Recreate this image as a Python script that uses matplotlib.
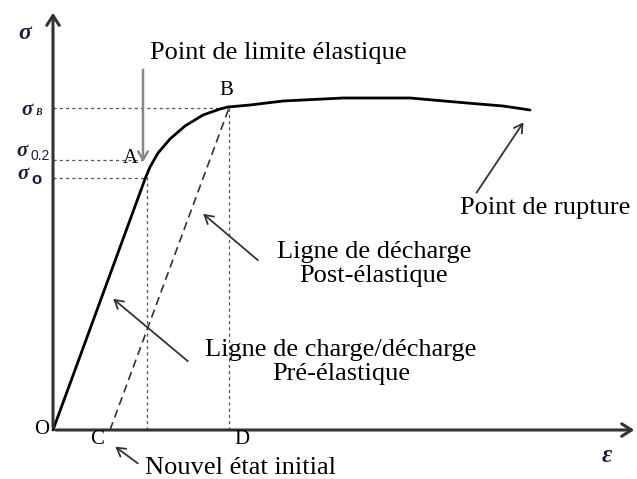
import matplotlib.pyplot as plt

# stress-strain curve, in drawing units (origin O at 0,0)
elastic_eps = [0, 88]
elastic_sig = [0, 240]
plastic_eps = [88, 92, 97, 105, 117, 132, 150, 167, 175, 197, 230, 290, 357, 414, 450, 477]
plastic_sig = [240, 251, 263, 277, 291, 304, 315, 321, 323, 325, 329, 332, 332, 327, 324, 320]

# characteristic points
eps_C = 57
eps_A = 94
eps_B = 176
sig_0 = 252
sig_02 = 270
sig_B = 322

plt.rcParams['font.family'] = ['Liberation Serif', 'DejaVu Serif']

fig = plt.figure(figsize=(6.37, 4.79), dpi=100)
ax = fig.add_axes([0, 0, 1, 1])
ax.set_xlim(-53, 584)
ax.set_ylim(-49, 430)
ax.axis('off')

axis_col = '#333333'
# axes with open arrow heads
ax.annotate('', xy=(0, 420), xytext=(0, 0),
            arrowprops=dict(arrowstyle='->,head_length=0.7,head_width=0.45', lw=2.2, color=axis_col))
ax.annotate('', xy=(584, 0), xytext=(0, 0),
            arrowprops=dict(arrowstyle='->,head_length=0.7,head_width=0.45', lw=2.2, color=axis_col))

# reference lines
dot = dict(color='#555555', lw=0.9, linestyle=(0, (2.5, 2.5)))
ax.plot([0, eps_B], [sig_B, sig_B], **dot)
ax.plot([0, 90], [sig_02, sig_02], **dot)
ax.plot([0, 92], [sig_0, sig_0], **dot)
ax.plot([eps_A, eps_A], [0, 262], **dot)
ax.plot([eps_B, eps_B], [0, sig_B], **dot)

# unloading line C-B
ax.plot([eps_C, eps_B], [0, sig_B], color='#333333', lw=1.2, linestyle=(0, (5, 3)))

# curve
ax.plot(elastic_eps, elastic_sig, color='black', lw=2.0, solid_capstyle='round')
ax.plot(plastic_eps, plastic_sig, color='black', lw=2.0, solid_capstyle='round')

fs = 19
arr = dict(arrowstyle='->,head_length=0.6,head_width=0.35', lw=1.3, color='#333333')

ax.annotate('', xy=(90, 265), xytext=(90, 363),
            arrowprops=dict(arrowstyle='->,head_length=0.6,head_width=0.35', lw=1.8, color='#888888'))
ax.text(225, 377, 'Point de limite élastique', fontsize=fs, ha='center', va='center')

ax.annotate('', xy=(472, 310), xytext=(422, 235), arrowprops=arr)
ax.text(492, 222, 'Point de rupture', fontsize=fs, ha='center', va='center')

ax.annotate('', xy=(148, 218), xytext=(207, 168), arrowprops=arr)
ax.text(321, 166, 'Ligne de décharge\nPost-élastique', fontsize=fs, ha='center', va='center',
        linespacing=1.1)

ax.annotate('', xy=(58, 133), xytext=(137, 67), arrowprops=arr)
ax.text(288, 68, 'Ligne de charge/décharge\nPré-élastique', fontsize=fs, ha='center', va='center',
        linespacing=1.1)

ax.annotate('', xy=(60, -15), xytext=(87, -35), arrowprops=arr)
ax.text(92, -38, 'Nouvel état initial', fontsize=fs, ha='left', va='center')

# point letters
lf = 15
ax.text(-11, 0, 'O', fontsize=lf, ha='center', va='center')
ax.text(44, -10, 'C', fontsize=lf, ha='center', va='center')
ax.text(189, -10, 'D', fontsize=lf, ha='center', va='center')
ax.text(77, 272, 'A', fontsize=lf, ha='center', va='center')
ax.text(173, 340, 'B', fontsize=lf, ha='center', va='center')

# axis symbols
sym = '#1c1c3a'
ax.text(-28, 397, 'σ', fontsize=17, style='italic', weight='bold', ha='center', va='center', color=sym)
ax.text(-26, 320, 'σ', fontsize=15, style='italic', weight='bold', ha='center', va='center', color=sym)
ax.text(-15, 318, 'B', fontsize=7, style='italic', weight='bold', ha='center', va='center', color=sym)
ax.text(-31, 279, 'σ', fontsize=15, style='italic', weight='bold', ha='center', va='center', color=sym)
ax.text(-13, 274, '0.2', fontsize=10, family='Liberation Sans', ha='center', va='center', color=sym)
ax.text(-30, 256, 'σ', fontsize=15, style='italic', weight='bold', ha='center', va='center', color=sym)
ax.text(-17, 251, 'o', fontsize=12, weight='bold', family='Liberation Sans', ha='center', va='center',
        color=sym)
ax.text(554, -25, 'ε', fontsize=18, style='italic', weight='bold', ha='center', va='center', color=sym)

fig.savefig('out.png', dpi=100)
